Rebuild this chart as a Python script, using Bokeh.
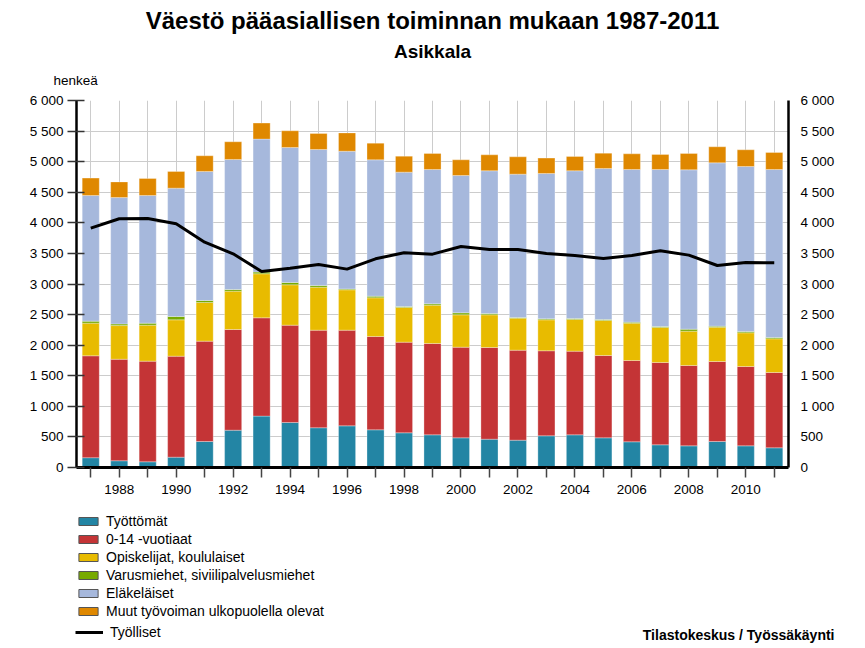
from bokeh.plotting import figure
from bokeh.models import (FixedTicker, LinearAxis, Range1d, Label, Legend,
                          LegendItem, ColumnDataSource)
from bokeh.layouts import column, row
from bokeh.embed import file_html
from bokeh.resources import INLINE

# ---------------- data ----------------
years = list(range(1987, 2012))
xtick_labels = [str(y) if y % 2 == 0 else "" for y in years]

tyottomat = [160, 110, 93, 169, 425, 610, 840, 736, 650, 681, 616, 567, 534,
             485, 463, 447, 518, 534, 485, 420, 371, 354, 425, 354, 322]
lapset = [1666, 1660, 1646, 1651, 1641, 1646, 1607, 1591, 1595, 1564, 1526,
          1482, 1493, 1482, 1499, 1471, 1390, 1368, 1346, 1329, 1346, 1314,
          1308, 1297, 1231]
opiskelijat = [534, 550, 588, 594, 632, 627, 720, 660, 703, 660, 632, 567, 627,
               529, 534, 524, 506, 518, 572, 611, 572, 561, 561, 551, 551]
varusmiehet = [33, 27, 33, 55, 32, 27, 28, 38, 28, 15, 27, 16, 22, 33, 22, 11,
               17, 16, 17, 16, 16, 33, 17, 22, 22]
elakelaiset = [2054, 2066, 2087, 2098, 2110, 2126, 2174, 2207, 2223, 2251, 2229,
               2197, 2196, 2245, 2333, 2343, 2376, 2415, 2469, 2496, 2567, 2605,
               2670, 2697, 2746]
muut = [284, 256, 278, 273, 256, 289, 262, 273, 262, 299, 273, 261, 262, 256,
        261, 283, 251, 234, 250, 256, 246, 267, 262, 273, 278]
tyolliset = [3913, 4066, 4071, 3984, 3684, 3493, 3205, 3259, 3319, 3243, 3412,
             3510, 3488, 3613, 3564, 3564, 3500, 3466, 3417, 3466, 3543, 3472,
             3303, 3352, 3346]

series_names = ["Työttömät", "0-14 -vuotiaat", "Opiskelijat, koululaiset",
                "Varusmiehet, siviilipalvelusmiehet", "Eläkeläiset",
                "Muut työvoiman ulkopuolella olevat"]
line_name = "Työlliset"
colors = ["#2385a4", "#c43436", "#e8bb00", "#77aa00", "#a6b8dc", "#df8800"]

ytick_values = list(range(0, 6001, 500))
ytick_labels = ["0", "500", "1 000", "1 500", "2 000", "2 500", "3 000",
                "3 500", "4 000", "4 500", "5 000", "5 500", "6 000"]

title_text = "Väestö pääasiallisen toiminnan mukaan 1987-2011"
subtitle_text = "Asikkala"
unit_text = "henkeä"
source_text = "Tilastokeskus / Työssäkäynti"

FONT = "Liberation Sans"
TICK_SIZE = "13.5px"
W = 864


def blank(fig):
    fig.axis.visible = False
    fig.grid.visible = False
    fig.outline_line_color = None
    fig.background_fill_color = "white"
    fig.border_fill_color = "white"


keys = ["s0", "s1", "s2", "s3", "s4", "s5"]
data = dict(year=years)
for k, vals in zip(keys, [tyottomat, lapset, opiskelijat, varusmiehet,
                          elakelaiset, muut]):
    data[k] = vals
src = ColumnDataSource(data)

# ---------------- header ----------------
HH = 88
header = figure(width=W, height=HH, x_range=Range1d(0, W),
                y_range=Range1d(HH, 0), output_backend="svg",
                toolbar_location=None, min_border=0)
blank(header)
header.add_layout(Label(x=432, y=20, text=title_text, text_align="center",
                        text_baseline="alphabetic", text_font=FONT,
                        text_font_size="24px", text_font_style="bold",
                        text_color="black"))
header.add_layout(Label(x=432, y=51, text=subtitle_text, text_align="center",
                        text_baseline="alphabetic", text_font=FONT,
                        text_font_size="19px", text_font_style="bold",
                        text_color="black"))
header.add_layout(Label(x=53, y=80, text=unit_text, text_align="left",
                        text_baseline="alphabetic", text_font=FONT,
                        text_font_size="13.5px", text_color="black"))

# ---------------- main chart ----------------
p = figure(width=W, height=412,
           x_range=Range1d(1986.5, 2011.5), y_range=Range1d(0, 6000),
           output_backend="svg", toolbar_location=None,
           min_border_left=76, min_border_right=76,
           min_border_top=12, min_border_bottom=33)
p.outline_line_color = None
p.background_fill_color = "white"
p.border_fill_color = "white"

bars = p.vbar_stack(keys, x="year", width=0.6, color=colors, source=src,
                    line_color="white", line_alpha=0.3, line_width=1)
ln = p.line(years, tyolliset, line_color="black", line_width=3)

p.xgrid.ticker = FixedTicker(ticks=years)
p.ygrid.ticker = FixedTicker(ticks=ytick_values)
p.xgrid.grid_line_color = "#cccccc"
p.ygrid.grid_line_color = "#cccccc"
p.xgrid.grid_line_width = 1
p.ygrid.grid_line_width = 1

xa = p.xaxis[0]
xa.ticker = FixedTicker(ticks=years)
xa.major_label_overrides = {y: l for y, l in zip(years, xtick_labels)}
xa.axis_line_width = 3
xa.axis_line_color = "black"
xa.major_tick_out = 10
xa.major_tick_in = 0
xa.major_tick_line_color = "#444444"
xa.major_tick_line_width = 1.5
xa.minor_tick_line_color = None
xa.major_label_standoff = 7
xa.major_label_text_font = FONT
xa.major_label_text_font_size = TICK_SIZE
xa.major_label_text_color = "black"

ya = p.yaxis[0]
ya.ticker = FixedTicker(ticks=ytick_values)
ya.major_label_overrides = {v: l for v, l in zip(ytick_values, ytick_labels)}
ya.axis_line_width = 2.5
ya.axis_line_color = "black"
ya.major_tick_out = 9
ya.major_tick_in = 8
ya.major_tick_line_width = 1.5
ya.major_tick_line_color = "#333333"
ya.minor_tick_line_color = None
ya.major_label_standoff = 4
ya.major_label_text_font = FONT
ya.major_label_text_font_size = TICK_SIZE
ya.major_label_text_color = "black"
ya.bounds = (-165, 6165)

ra = LinearAxis(ticker=FixedTicker(ticks=ytick_values))
ra.major_label_overrides = {v: l for v, l in zip(ytick_values, ytick_labels)}
ra.axis_line_width = 2.5
ra.axis_line_color = "black"
ra.major_tick_out = 0
ra.major_tick_in = 0
ra.minor_tick_line_color = None
ra.major_label_standoff = 12
ra.major_label_text_font = FONT
ra.major_label_text_font_size = TICK_SIZE
ra.major_label_text_color = "black"
ra.bounds = (-165, 6165)
p.add_layout(ra, "right")

# ---------------- footer (legend + source) ----------------
FH = 146
footer = figure(width=W, height=FH, x_range=Range1d(0, W),
                y_range=Range1d(FH, 0), output_backend="svg",
                toolbar_location=None, min_border=0)
blank(footer)

proxies = []
for k, c in zip(keys, colors):
    r = footer.vbar(x="year", top=k, width=0.6, source=src, fill_color=c,
                    line_color="#555555", line_width=1)
    r.visible = False
    proxies.append(r)
line_proxy = footer.line(years, tyolliset, line_color="black", line_width=3)
line_proxy.visible = False

leg1 = Legend(items=[LegendItem(label=n, renderers=[r])
                     for n, r in zip(series_names, proxies)],
              location=(76, 27), orientation="vertical",
              padding=0, margin=0, spacing=2, click_policy="none",
              glyph_width=24, glyph_height=10, label_height=14,
              label_standoff=6, label_text_font=FONT,
              label_text_font_size="14px", label_text_color="black",
              border_line_color=None, background_fill_alpha=0)
footer.add_layout(leg1)

leg2 = Legend(items=[LegendItem(label=line_name, renderers=[line_proxy])],
              location=(75, 6), orientation="vertical",
              padding=0, margin=0, spacing=2, click_policy="none",
              glyph_width=28, glyph_height=10, label_height=14,
              label_standoff=7, label_text_font=FONT,
              label_text_font_size="14px", label_text_color="black",
              border_line_color=None, background_fill_alpha=0)
footer.add_layout(leg2)

footer.add_layout(Label(x=834, y=134, text=source_text, text_align="right",
                        text_baseline="alphabetic", text_font=FONT,
                        text_font_size="14px", text_font_style="bold",
                        text_color="black"))

layout = column(row(header), row(p), row(footer), spacing=0)
open("out.html", "w").write(file_html(layout, INLINE))
